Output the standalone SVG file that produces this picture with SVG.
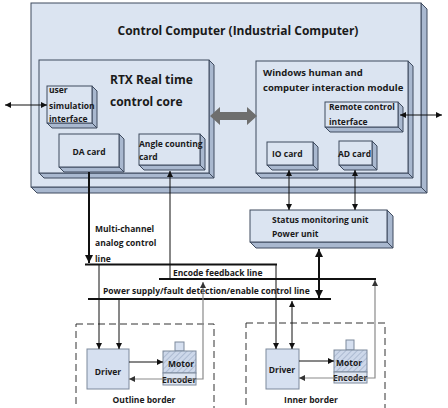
<svg xmlns="http://www.w3.org/2000/svg" width="448" height="408" viewBox="0 0 448 408">
<style>
.front{fill:#dbe4f1;stroke:#3e4a5e;stroke-width:1}
.side{fill:#a9b8cf;stroke:#3e4a5e;stroke-width:1;stroke-linejoin:round}
.t{font-family:"Open Sans","Noto Sans",sans-serif;font-weight:bold;fill:#1a1a1a}
.s{font-size:8.5px}
.big{font-size:12px}
.ln{fill:none;stroke:#111;stroke-width:1}
.thick{fill:none;stroke:#111;stroke-width:2}
.gray{fill:none;stroke:#8a8a8a;stroke-width:1.2}
.dash{fill:none;stroke:#333;stroke-width:1;stroke-dasharray:7,4}
.drv{fill:#d6e0f0;stroke:#7d899c;stroke-width:1}
.mot{fill:url(#hatch);stroke:#7d899c;stroke-width:1}
.enc{fill:#dde5f1;stroke:#7d899c;stroke-width:1}
</style>
<defs>
<marker id="ar" viewBox="0 0 10 10" refX="10" refY="5" markerWidth="6" markerHeight="6" orient="auto-start-reverse" markerUnits="userSpaceOnUse"><path d="M0,0 L10,5 L0,10 z" fill="#111"/></marker>
<marker id="arb" viewBox="0 0 10 10" refX="10" refY="5" markerWidth="8" markerHeight="8" orient="auto-start-reverse" markerUnits="userSpaceOnUse"><path d="M0,0 L10,5 L0,10 z" fill="#111"/></marker>
<marker id="arg" viewBox="0 0 10 10" refX="10" refY="5" markerWidth="6" markerHeight="6" orient="auto-start-reverse" markerUnits="userSpaceOnUse"><path d="M0,0 L10,5 L0,10 z" fill="#333"/></marker>
<pattern id="hatch" width="4" height="4" patternUnits="userSpaceOnUse" patternTransform="rotate(45)"><rect width="4" height="4" fill="#cdd8ea"/><line x1="0" y1="0" x2="0" y2="4" stroke="#98a8c2" stroke-width="1.2"/></pattern>
</defs>

<g id="control-computer">
<polygon class="side" points="421,3 427,9 427,193 421,187"/>
<polygon class="side" points="31,187 421,187 427,193 37,193"/>
<rect class="front" x="31" y="3" width="390" height="184"/>
<text class="t big" x="238" y="35" text-anchor="middle">Control Computer (Industrial Computer)</text>
</g>

<g id="rtx-core">
<polygon class="side" points="209,60 214,65 214,178 209,173"/>
<polygon class="side" points="39,173 209,173 214,178 44,178"/>
<rect class="front" x="39" y="60" width="170" height="113"/>
<text class="t big" x="110" y="84">RTX Real time</text>
<text class="t big" x="110" y="106">control core</text>
</g>

<g id="user-simulation-interface">
<polygon class="side" points="92,86 97,91 97,128 92,123"/>
<polygon class="side" points="47,123 92,123 97,128 52,128"/>
<rect class="front" x="47" y="86" width="45" height="37"/>
<text class="t s" x="49" y="93">user</text>
<text class="t s" x="49" y="109">simulation</text>
<text class="t s" x="49" y="122">interface</text>
</g>

<g id="da-card">
<polygon class="side" points="119,134 124,139 124,172 119,167"/>
<polygon class="side" points="59,167 119,167 124,172 64,172"/>
<rect class="front" x="59" y="134" width="60" height="33"/>
<text class="t s" x="89" y="155" text-anchor="middle">DA card</text>
</g>

<g id="angle-counting-card">
<polygon class="side" points="200,134 205,139 205,170 200,165"/>
<polygon class="side" points="139,165 200,165 205,170 144,170"/>
<rect class="front" x="139" y="134" width="61" height="31"/>
<text class="t s" x="139" y="147">Angle counting</text>
<text class="t s" x="139" y="160">card</text>
</g>

<g id="windows-module">
<polygon class="side" points="408,61 413,66 413,178 408,173"/>
<polygon class="side" points="256,173 408,173 413,178 261,178"/>
<rect class="front" x="256" y="61" width="152" height="112"/>
<text class="t" font-size="9.5" x="263" y="76">Windows human and</text>
<text class="t" font-size="9.5" x="263" y="91">computer interaction module</text>
</g>

<g id="remote-control-interface">
<polygon class="side" points="398,102 403,107 403,132 398,127"/>
<polygon class="side" points="325,127 398,127 403,132 330,132"/>
<rect class="front" x="325" y="102" width="73" height="25"/>
<text class="t s" x="329" y="110">Remote control</text>
<text class="t s" x="329" y="125">interface</text>
</g>

<g id="io-card">
<polygon class="side" points="313,142 318,147 318,170 313,165"/>
<polygon class="side" points="267,165 313,165 318,170 272,170"/>
<rect class="front" x="267" y="142" width="46" height="23"/>
<text class="t s" x="272" y="157">IO card</text>
</g>

<g id="ad-card">
<polygon class="side" points="372,141 377,146 377,170 372,165"/>
<polygon class="side" points="339,165 372,165 377,170 344,170"/>
<rect class="front" x="339" y="141" width="33" height="24"/>
<text class="t s" x="338" y="157">AD card</text>
</g>

<g id="status-power-unit">
<polygon class="side" points="387,210 393,216 393,248 387,242"/>
<polygon class="side" points="250,242 387,242 393,248 256,248"/>
<rect class="front" x="250" y="210" width="137" height="32"/>
<text class="t s" x="272" y="223">Status monitoring unit</text>
<text class="t s" x="272" y="237">Power unit</text>
</g>

<g id="outline-border">
<rect class="dash" x="76" y="324" width="138" height="100"/>
<rect class="drv" x="87" y="349" width="42" height="40"/>
<text class="t s" x="108" y="375" text-anchor="middle">Driver</text>
<rect class="drv" x="175" y="342" width="9" height="9"/>
<rect class="mot" x="163" y="351" width="33" height="22"/>
<rect class="enc" x="163" y="373" width="33" height="12"/>
<text class="t s" x="168" y="367">Motor</text>
<text class="t s" x="162" y="383">Encoder</text>
<text class="t s" x="144" y="403" text-anchor="middle">Outline border</text>
</g>

<g id="inner-border">
<rect class="dash" x="246" y="323" width="139" height="100"/>
<rect class="drv" x="266" y="349" width="33" height="40"/>
<text class="t s" x="282" y="373" text-anchor="middle">Driver</text>
<rect class="drv" x="346" y="340" width="8" height="10"/>
<rect class="mot" x="334" y="350" width="33" height="22"/>
<rect class="enc" x="334" y="372" width="33" height="11"/>
<text class="t s" x="336" y="366">Motor</text>
<text class="t s" x="333" y="381">Encoder</text>
<text class="t s" x="311" y="403" text-anchor="middle">Inner border</text>
</g>

<g id="connectors">
<!-- big gray double arrow -->
<polygon points="210,116 220,107 220,112 247,112 247,107 257,116 247,125 247,120 220,120 220,125" fill="#6e6e6e"/>
<!-- external arrows -->
<line class="ln" x1="5" y1="105" x2="47" y2="105" stroke-width="1.5" marker-start="url(#ar)" marker-end="url(#ar)"/>
<line class="ln" x1="400" y1="115" x2="442" y2="115" stroke-width="1.5" marker-start="url(#ar)" marker-end="url(#ar)"/>
<!-- IO/AD to status -->
<line class="ln" x1="289" y1="170" x2="289" y2="210" marker-start="url(#ar)" marker-end="url(#ar)"/>
<line class="ln" x1="355" y1="170" x2="355" y2="210" marker-start="url(#ar)" marker-end="url(#ar)"/>
<!-- power unit to power line -->
<line class="thick" x1="319" y1="249" x2="319" y2="298" stroke-width="2.2" marker-start="url(#arb)" marker-end="url(#arb)"/>
<!-- DA card down -->
<line class="thick" x1="89" y1="172" x2="89" y2="263" stroke-width="1.8" marker-end="url(#arb)"/>
<!-- angle counting feedback -->
<line class="ln" x1="170" y1="279" x2="170" y2="171" stroke-width="1.3" marker-end="url(#ar)"/>
<!-- bus lines -->
<line class="thick" x1="85" y1="264.5" x2="277" y2="264.5"/>
<text class="t s" x="95" y="232">Multi-channel</text>
<text class="t s" x="95" y="246">analog control</text>
<text class="t s" x="95" y="262">line</text>
<line class="thick" x1="159" y1="279" x2="376" y2="279"/>
<text class="t s" x="173" y="276">Encode feedback line</text>
<line class="thick" x1="88" y1="299" x2="331" y2="299"/>
<text class="t s" x="103" y="294">Power supply/fault detection/enable control line</text>
<!-- outline drops -->
<line class="ln" x1="99" y1="265" x2="99" y2="349" marker-end="url(#ar)"/>
<line class="ln" x1="119" y1="300" x2="119" y2="349" marker-end="url(#ar)"/>
<line class="ln" x1="129" y1="362" x2="163" y2="362" marker-end="url(#ar)"/>
<polyline class="gray" points="203,282 203,379 129,379" marker-start="url(#arg)" marker-end="url(#arg)"/>
<!-- inner drops -->
<line class="ln" x1="276" y1="265" x2="276" y2="349" marker-end="url(#ar)"/>
<line class="ln" x1="292" y1="301" x2="292" y2="349" marker-start="url(#ar)" marker-end="url(#ar)"/>
<line class="ln" x1="299" y1="361" x2="334" y2="361" marker-end="url(#ar)"/>
<polyline class="gray" points="375,280 375,378 299,378" stroke="#555" marker-start="url(#arg)" marker-end="url(#arg)"/>
</g>
</svg>
